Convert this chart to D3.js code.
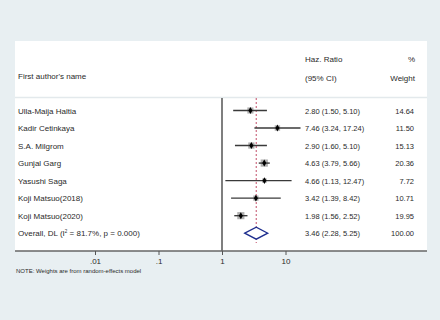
<!DOCTYPE html>
<html>
<head>
<meta charset="utf-8">
<script src="https://cdn.jsdelivr.net/npm/d3@7"></script>
<style>
  body { margin: 0; background: #e8eff2; }
  text { font-family: "Liberation Sans", Arial, sans-serif; fill: #2a2a2a; }
</style>
</head>
<body>
<div id="chart"></div>
<script>
// study data
const authors = ["Ulla-Maija Haltia", "Kadir Cetinkaya", "S.A. Milgrom", "Gunjal Garg",
  "Yasushi Saga", "Koji Matsuo(2018)", "Koji Matsuo(2020)"];
const hr = [2.80, 7.46, 2.90, 4.63, 4.66, 3.42, 1.98];
const lo = [1.50, 3.24, 1.60, 3.79, 1.13, 1.39, 1.56];
const hi = [5.10, 17.24, 5.10, 5.66, 12.47, 8.42, 2.52];
const weight = [14.64, 11.50, 15.13, 20.36, 7.72, 10.71, 19.95];
const ciText = ["2.80 (1.50, 5.10)", "7.46 (3.24, 17.24)", "2.90 (1.60, 5.10)", "4.63 (3.79, 5.66)",
  "4.66 (1.13, 12.47)", "3.42 (1.39, 8.42)", "1.98 (1.56, 2.52)"];
const wText = ["14.64", "11.50", "15.13", "20.36", "7.72", "10.71", "19.95"];

const overallHr = 3.46, overallLo = 2.28, overallHi = 5.25;
const overallCi = "3.46 (2.28, 5.25)";
const overallW = "100.00";

const tickVals = [0.01, 0.1, 1, 10];
const tickLabels = [".01", ".1", "1", "10"];

const width = 440, height = 320;

const svg = d3.select("#chart").append("svg")
  .attr("width", width)
  .attr("height", height);

svg.append("rect").attr("width", width).attr("height", height).attr("fill", "#e8eff2");

// white plot region
const plot = {left: 15, right: 427, top: 41, bottom: 251};
svg.append("rect")
  .attr("x", plot.left).attr("y", plot.top)
  .attr("width", plot.right - plot.left).attr("height", plot.bottom - plot.top)
  .attr("fill", "#ffffff");

// header separator
svg.append("line")
  .attr("x1", plot.left).attr("x2", plot.right)
  .attr("y1", 97.5).attr("y2", 97.5)
  .attr("stroke", "#e3e9ec").attr("stroke-width", 1.5);

const x = d3.scaleLog().domain([0.01, 10]).range([95, 285.5]);
const rows = authors.concat(["Overall"]);
const y = d3.scalePoint().domain(rows).range([110.5, 233.2]);

// header text
svg.append("text").attr("x", 18).attr("y", 79).attr("font-size", 8).text("First author's name");
svg.append("text").attr("x", 305).attr("y", 61.5).attr("font-size", 8).text("Haz. Ratio");
svg.append("text").attr("x", 305).attr("y", 80.5).attr("font-size", 8).text("(95% CI)");
svg.append("text").attr("x", 415).attr("y", 61.5).attr("font-size", 8).attr("text-anchor", "end").text("%");
svg.append("text").attr("x", 415).attr("y", 80.5).attr("font-size", 8).attr("text-anchor", "end").text("Weight");

// null line
svg.append("line")
  .attr("x1", x(1)).attr("x2", x(1))
  .attr("y1", 98).attr("y2", plot.bottom)
  .attr("stroke", "#555").attr("stroke-width", 1.5);

// overall effect dashed line
svg.append("line")
  .attr("x1", x(overallHr)).attr("x2", x(overallHr))
  .attr("y1", 98).attr("y2", 243)
  .attr("stroke", "#c2506a").attr("stroke-width", 1)
  .attr("stroke-dasharray", "2,2");

const studies = authors.map((a, i) => ({name: a, hr: hr[i], lo: lo[i], hi: hi[i], w: weight[i], ci: ciText[i], wt: wText[i]}));

const g = svg.append("g");

// weight boxes
g.selectAll("rect.box").data(studies).enter().append("rect")
  .attr("class", "box")
  .attr("x", d => x(d.hr) - 1.6 * Math.sqrt(d.w) / 2)
  .attr("y", d => y(d.name) - 1.6 * Math.sqrt(d.w) / 2)
  .attr("width", d => 1.6 * Math.sqrt(d.w))
  .attr("height", d => 1.6 * Math.sqrt(d.w))
  .attr("fill", "#b0b0b0");

// CI lines
g.selectAll("line.ci").data(studies).enter().append("line")
  .attr("class", "ci")
  .attr("x1", d => x(d.lo)).attr("x2", d => x(d.hi))
  .attr("y1", d => y(d.name)).attr("y2", d => y(d.name))
  .attr("stroke", "#3a3a3a").attr("stroke-width", 1.4);

// point estimates
g.selectAll("path.pt").data(studies).enter().append("path")
  .attr("class", "pt")
  .attr("d", d3.symbol(d3.symbolDiamond, 14))
  .attr("transform", d => `translate(${x(d.hr)},${y(d.name)})`)
  .attr("fill", "#000");

// labels
g.selectAll("text.name").data(studies).enter().append("text")
  .attr("class", "name")
  .attr("x", 18).attr("y", d => y(d.name) + 3)
  .attr("font-size", 8).text(d => d.name);

g.selectAll("text.ci").data(studies).enter().append("text")
  .attr("class", "ci")
  .attr("x", 305).attr("y", d => y(d.name) + 3)
  .attr("font-size", 7.5).text(d => d.ci);

g.selectAll("text.wt").data(studies).enter().append("text")
  .attr("class", "wt")
  .attr("x", 414).attr("y", d => y(d.name) + 3)
  .attr("font-size", 7.5).attr("text-anchor", "end").text(d => d.wt);

// overall row
const oy = y("Overall");
const ov = svg.append("text").attr("x", 18).attr("y", oy + 3).attr("font-size", 8);
ov.append("tspan").text("Overall, DL (I");
ov.append("tspan").attr("font-size", 4.5).attr("dy", -3.5).text("2");
ov.append("tspan").attr("dy", 3.5).text(" = 81.7%, p = 0.000)");

svg.append("text").attr("x", 305).attr("y", oy + 3).attr("font-size", 7.5).text(overallCi);
svg.append("text").attr("x", 414).attr("y", oy + 3).attr("font-size", 7.5).attr("text-anchor", "end").text(overallW);

svg.append("path")
  .attr("d", `M${x(overallLo)},${oy} L${x(overallHr)},${oy - 6} L${x(overallHi)},${oy} L${x(overallHr)},${oy + 6} Z`)
  .attr("fill", "#fff").attr("stroke", "#1f2f8f").attr("stroke-width", 1.3);

// x axis
svg.append("line")
  .attr("x1", plot.left).attr("x2", plot.right)
  .attr("y1", plot.bottom).attr("y2", plot.bottom)
  .attr("stroke", "#666").attr("stroke-width", 1.5);

const xAxis = d3.axisBottom(x)
  .tickValues(tickVals)
  .tickSize(4)
  .tickFormat((d, i) => tickLabels[i]);

const axG = svg.append("g")
  .attr("transform", `translate(0,${plot.bottom})`)
  .call(xAxis);
axG.select(".domain").remove();
axG.selectAll(".tick line").attr("stroke", "#555");
axG.selectAll(".tick text")
  .attr("font-family", "Liberation Sans, Arial, sans-serif")
  .attr("font-size", 8).attr("fill", "#2a2a2a").attr("dy", "0.75em");

svg.append("text").attr("x", 16).attr("y", 273).attr("font-size", 6)
  .text("NOTE: Weights are from random-effects model");
</script>
</body>
</html>
